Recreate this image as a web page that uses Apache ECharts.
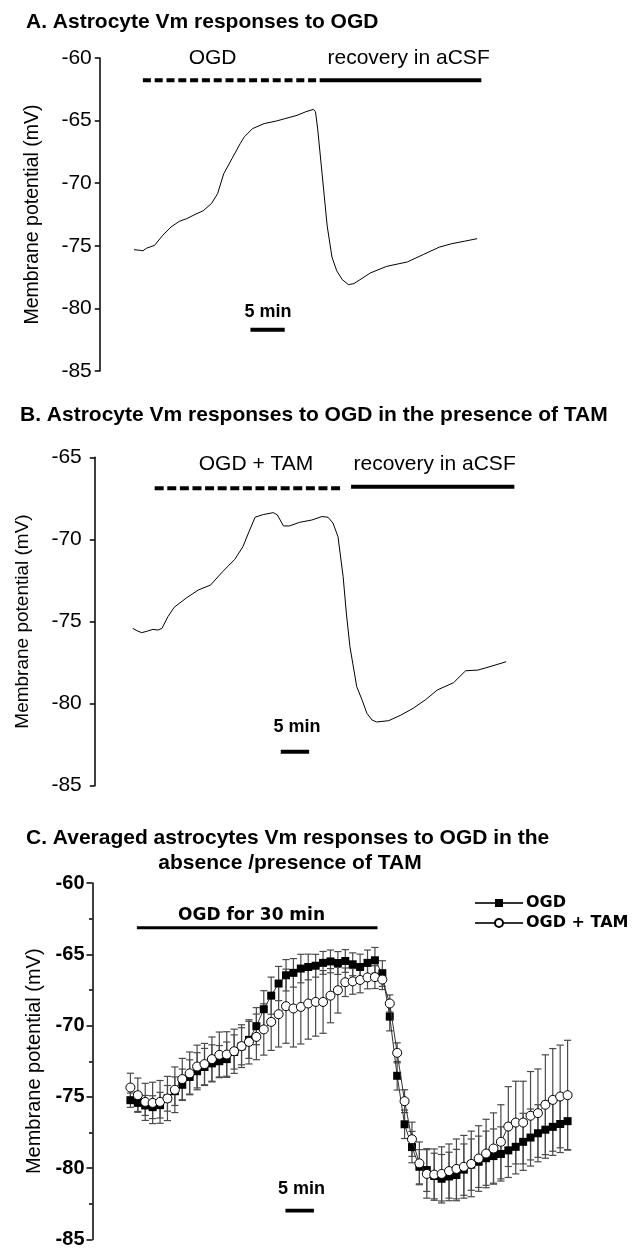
<!DOCTYPE html>
<html>
<head>
<meta charset="utf-8">
<script src="https://cdn.jsdelivr.net/npm/echarts@6/dist/echarts.min.js"></script>
<style>
html,body{margin:0;padding:0;background:#fff;}
#chart{width:635px;height:1254px;}
</style>
</head>
<body>
<div id="chart"></div>
<script>
// ---------- Panel A: single astrocyte trace, OGD ----------
const timesA = [0,0.9,1.3,1.8,3.0,4.2,5.4,6.6,7.7,8.9,10.1,11.3,12.2,13.1,14.3,15.5,16.1,17.3,19.0,20.8,22.0,23.8,25.0,26.2,26.5,26.8,27.45,28.2,28.9,29.6,30.4,31.3,32.1,33.3,34.5,36.9,39.9,42.3,44.6,46.4,48.2,50.1];
const vmA    = [-75.31,-75.36,-75.40,-75.20,-74.96,-74.16,-73.50,-73.05,-72.83,-72.50,-72.20,-71.63,-70.84,-69.24,-68.04,-66.84,-66.30,-65.64,-65.24,-65.03,-64.85,-64.58,-64.31,-64.10,-64.30,-65.60,-69.20,-73.40,-75.90,-77.00,-77.70,-78.10,-78.02,-77.60,-77.17,-76.64,-76.29,-75.68,-75.10,-74.83,-74.64,-74.43];
const ogdPeriodA = [1.3, 27.1];
const recoveryPeriodA = [27.1, 50.7];
const protocolLevelA = -61.78;
const scaleBarA = [17.0, 22.0];
const scaleBarLevelA = -81.7;

// ---------- Panel B: single astrocyte trace, OGD + TAM ----------
const timesB = [0,0.86,1.57,2.64,3.57,4.43,5.14,6.21,7.29,9.43,11.57,13.71,15.86,18.0,19.43,20.5,21.57,23.0,24.79,25.5,26.57,27.64,29.43,31.57,33.36,34.43,35.3,36.2,37.1,37.7,38.3,39.5,40.4,41.3,42.2,43.0,45.14,47.29,49.43,51.57,53.71,56.57,58.71,60.86,63.0,65.86];
const vmB    = [-75.42,-75.58,-75.68,-75.58,-75.48,-75.52,-75.42,-74.70,-74.14,-73.57,-73.08,-72.78,-71.96,-71.21,-70.44,-69.53,-68.65,-68.49,-68.37,-68.51,-69.18,-69.18,-68.96,-68.82,-68.61,-68.65,-69.00,-69.84,-72.27,-74.60,-76.53,-78.97,-79.74,-80.60,-81.00,-81.12,-81.04,-80.70,-80.29,-79.78,-79.17,-78.73,-78.00,-77.96,-77.75,-77.45];
const ogdPeriodB = [3.86, 37.1];
const recoveryPeriodB = [38.5, 67.3];
const ogdLevelB = -66.89;
const recoveryLevelB = -66.79;
const scaleBarB = [26.1, 31.1];
const scaleBarLevelB = -82.93;

// ---------- Panel C: averaged responses (mean, SEM) ----------
const timesC = [0,1.3,2.6,3.9,5.2,6.5,7.8,9.1,10.4,11.7,13,14.3,15.6,16.9,18.2,19.5,20.8,22.1,23.4,24.7,26,27.3,28.6,29.9,31.2,32.5,33.8,35.1,36.4,37.7,39,40.3,41.6,42.9,44.2,45.5,46.8,48.1,49.4,50.7,52,53.3,54.6,55.9,57.2,58.5,59.8,61.1,62.4,63.7,65,66.3,67.6,68.9,70.2,71.5,72.8,74.1,75.4,76.7];
const ogdMean = [-75.23,-75.42,-75.60,-75.72,-75.58,-75.10,-74.60,-74.15,-73.60,-73.20,-72.90,-72.65,-72.50,-72.35,-71.85,-71.45,-71.00,-70.04,-68.85,-67.90,-67.05,-66.47,-66.30,-66.00,-65.89,-65.80,-65.60,-65.50,-65.61,-65.47,-65.70,-65.89,-65.60,-65.42,-66.35,-69.37,-73.52,-76.92,-78.52,-79.90,-80.13,-80.55,-80.74,-80.58,-80.48,-80.10,-79.75,-79.55,-79.30,-79.15,-79.00,-78.75,-78.50,-78.15,-77.85,-77.55,-77.30,-77.10,-76.90,-76.70];
const ogdSem  = [0.5,0.6,0.7,0.8,0.9,0.9,1.0,1.1,1.2,1.3,1.3,1.3,1.1,1.2,1.2,1.3,1.3,1.3,1.3,1.3,1.2,1.1,1.0,1.0,0.9,0.8,0.8,0.8,0.8,0.8,0.8,0.9,0.9,0.9,0.9,1.0,1.0,1.0,1.1,1.2,1.5,1.6,1.7,1.7,1.8,1.8,1.8,1.8,1.9,1.9,1.9,1.9,1.9,2.0,2.0,2.0,2.0,2.0,2.0,2.0];
const tamMean = [-74.34,-74.88,-75.35,-75.42,-75.35,-75.11,-74.50,-73.75,-73.35,-72.87,-72.70,-72.35,-72.05,-72.03,-71.80,-71.44,-71.14,-70.79,-70.27,-69.74,-69.20,-68.64,-68.80,-68.69,-68.45,-68.34,-68.34,-67.90,-67.52,-66.96,-66.90,-66.80,-66.62,-66.60,-66.77,-68.45,-71.91,-75.30,-77.97,-79.66,-80.40,-80.45,-80.40,-80.20,-80.05,-79.90,-79.70,-79.32,-78.97,-78.62,-78.15,-77.08,-76.80,-76.80,-76.32,-76.14,-75.55,-75.21,-74.97,-74.88];
const tamSem  = [1.0,1.2,1.3,1.45,1.5,1.55,1.6,1.45,1.5,1.5,1.45,1.55,1.6,1.6,1.55,1.5,1.55,1.6,1.8,2.0,2.3,2.6,2.7,2.6,2.5,2.4,2.2,1.9,1.6,1.0,0.9,0.9,0.8,0.8,0.7,0.6,0.7,0.8,1.2,1.5,1.7,1.8,1.9,1.9,2.1,2.2,2.3,2.3,2.4,2.5,2.6,2.8,2.9,2.9,3.1,3.1,3.5,3.6,3.6,3.85];
const ogdPeriodC = [1.14, 43.35];
const ogdLevelC = -63.13;
const scaleBarC = [27.2, 32.2];
const scaleBarLevelC = -82.98;
const seriesNamesC = ['OGD', 'OGD + TAM'];
const yTicksA = [-85, -60], yTicksB = [-85, -65], yTicksC = [-85, -60];

// ---------- build ----------
const FONT = '"Liberation Sans", Arial, sans-serif';
const pairs = (xs, ys) => xs.map((x, i) => [x, ys[i]]);
const errRows = (xs, m, e) => xs.map((x, i) => [x, m[i] - e[i], m[i] + e[i]]);

function yAxis(grid, ticks, opts) {
  return Object.assign({
    gridIndex: grid, type: 'value', min: ticks[0], max: ticks[1], interval: 5,
    axisLine: {show: true, onZero: false, lineStyle: {color: '#000', width: 1.5}},
    axisTick: {show: true, length: 5, lineStyle: {color: '#000', width: 1.5}},
    splitLine: {show: false},
    name: 'Membrane potential (mV)', nameLocation: 'middle',
  }, opts);
}
function hBar(xi, span, level, style) {
  return {type: 'line', xAxisIndex: xi, yAxisIndex: xi, data: [[span[0], level], [span[1], level]],
    symbol: 'none', silent: true, z: 3, lineStyle: Object.assign({color: '#000', cap: 'butt'}, style)};
}
function errSeries(rows) {
  return {type: 'custom', xAxisIndex: 2, yAxisIndex: 2, data: rows, silent: true, z: 1,
    encode: {x: 0, y: [1, 2]},
    renderItem: function (params, api) {
      const x = api.value(0);
      const lo = api.coord([x, api.value(1)]);
      const hi = api.coord([x, api.value(2)]);
      const hw = 3.6;
      const st = {stroke: '#4a4a4a', lineWidth: 1.2};
      return {type: 'group', children: [
        {type: 'line', shape: {x1: lo[0], y1: lo[1], x2: hi[0], y2: hi[1]}, style: st},
        {type: 'line', shape: {x1: lo[0] - hw, y1: lo[1], x2: lo[0] + hw, y2: lo[1]}, style: st},
        {type: 'line', shape: {x1: hi[0] - hw, y1: hi[1], x2: hi[0] + hw, y2: hi[1]}, style: st}
      ]};
    }};
}
function txt(x, y, s, font, align) {
  return {type: 'text', x: x, y: y, silent: true,
    style: {text: s, font: font, fill: '#000', align: align || 'center', verticalAlign: 'middle'}};
}

const option = {
  animation: false,
  backgroundColor: '#fff',
  grid: [
    {left: 99.75, top: 58, width: 513.75, height: 313},
    {left: 94.8, top: 457.3, width: 519.9, height: 328.4},
    {left: 92.5, top: 883, width: 522.4, height: 356.5}
  ],
  xAxis: [
    {gridIndex: 0, type: 'value', min: -5, max: 70, show: false},
    {gridIndex: 1, type: 'value', min: -6.7, max: 85, show: false},
    {gridIndex: 2, type: 'value', min: -6.65, max: 85, show: false}
  ],
  yAxis: [
    yAxis(0, yTicksA, {axisLabel: {color: '#000', fontSize: 21, fontFamily: FONT, margin: 8},
      nameGap: 57, nameTextStyle: {color: '#000', fontSize: 19.5, fontFamily: FONT}}),
    yAxis(1, yTicksB, {axisLabel: {color: '#000', fontSize: 21, fontFamily: FONT, margin: 13},
      nameGap: 63, nameTextStyle: {color: '#000', fontSize: 19, fontFamily: FONT}}),
    yAxis(2, yTicksC, {axisLabel: {color: '#000', fontSize: 20, fontWeight: 'bold', fontFamily: FONT, margin: 8},
      axisTick: {show: true, length: 6, lineStyle: {color: '#000', width: 1.5}},
      minorTick: {show: true, splitNumber: 2, length: 3.5, lineStyle: {color: '#000', width: 1.5}},
      nameGap: 48, nameTextStyle: {color: '#000', fontSize: 20, fontFamily: FONT}})
  ],
  legend: {
    data: seriesNamesC, orient: 'vertical', left: 474, top: 895, padding: 0,
    itemWidth: 48, itemHeight: 10, itemGap: 4,
    textStyle: {color: '#000', fontFamily: '"DejaVu Sans", sans-serif', fontWeight: 'bold', fontSize: 16, padding: [0, 0, 0, -2]}
  },
  series: [
    // A
    {type: 'line', xAxisIndex: 0, yAxisIndex: 0, data: pairs(timesA, vmA), symbol: 'none',
      lineStyle: {color: '#000', width: 1}, z: 2},
    hBar(0, ogdPeriodA, protocolLevelA, {width: 4, type: [8, 3.8]}),
    hBar(0, recoveryPeriodA, protocolLevelA, {width: 4}),
    hBar(0, scaleBarA, scaleBarLevelA, {width: 4}),
    // B
    {type: 'line', xAxisIndex: 1, yAxisIndex: 1, data: pairs(timesB, vmB), symbol: 'none',
      lineStyle: {color: '#000', width: 1}, z: 2},
    hBar(1, ogdPeriodB, ogdLevelB, {width: 4, type: [9, 3.6]}),
    hBar(1, recoveryPeriodB, recoveryLevelB, {width: 4}),
    hBar(1, scaleBarB, scaleBarLevelB, {width: 4}),
    // C
    errSeries(errRows(timesC, ogdMean, ogdSem)),
    errSeries(errRows(timesC, tamMean, tamSem)),
    {type: 'line', name: seriesNamesC[0], xAxisIndex: 2, yAxisIndex: 2, data: pairs(timesC, ogdMean),
      symbol: 'rect', symbolSize: 8, itemStyle: {color: '#000'},
      lineStyle: {color: '#333', width: 1}, z: 4},
    {type: 'line', name: seriesNamesC[1], xAxisIndex: 2, yAxisIndex: 2, data: pairs(timesC, tamMean),
      symbol: 'circle', symbolSize: 9, itemStyle: {color: '#fff', borderColor: '#000', borderWidth: 1},
      lineStyle: {color: '#333', width: 1}, z: 5},
    hBar(2, ogdPeriodC, ogdLevelC, {width: 3}),
    hBar(2, scaleBarC, scaleBarLevelC, {width: 3.7})
  ],
  graphic: [
    txt(26, 22, 'A. Astrocyte Vm responses to OGD', 'bold 21px ' + FONT, 'left'),
    txt(212.6, 58, 'OGD', '21px ' + FONT),
    txt(408.6, 58, 'recovery in aCSF', '21px ' + FONT),
    txt(267.9, 312, '5 min', 'bold 18px ' + FONT),
    txt(20, 415, 'B. Astrocyte Vm responses to OGD in the presence of TAM', 'bold 21px ' + FONT, 'left'),
    txt(256, 464, 'OGD + TAM', '21px ' + FONT),
    txt(434.6, 464, 'recovery in aCSF', '21px ' + FONT),
    txt(296.9, 726.7, '5 min', 'bold 18px ' + FONT),
    txt(26, 838, 'C. Averaged astrocytes Vm responses to OGD in the', 'bold 21px ' + FONT, 'left'),
    txt(290, 863, 'absence /presence of TAM', 'bold 21px ' + FONT),
    txt(251.5, 916, 'OGD for 30 min', 'bold 17px "DejaVu Sans", sans-serif'),
    txt(301.6, 1189, '5 min', 'bold 18px ' + FONT)
  ]
};

const chart = echarts.init(document.getElementById('chart'), null, {renderer: 'canvas'});
chart.setOption(option);
</script>
</body>
</html>
